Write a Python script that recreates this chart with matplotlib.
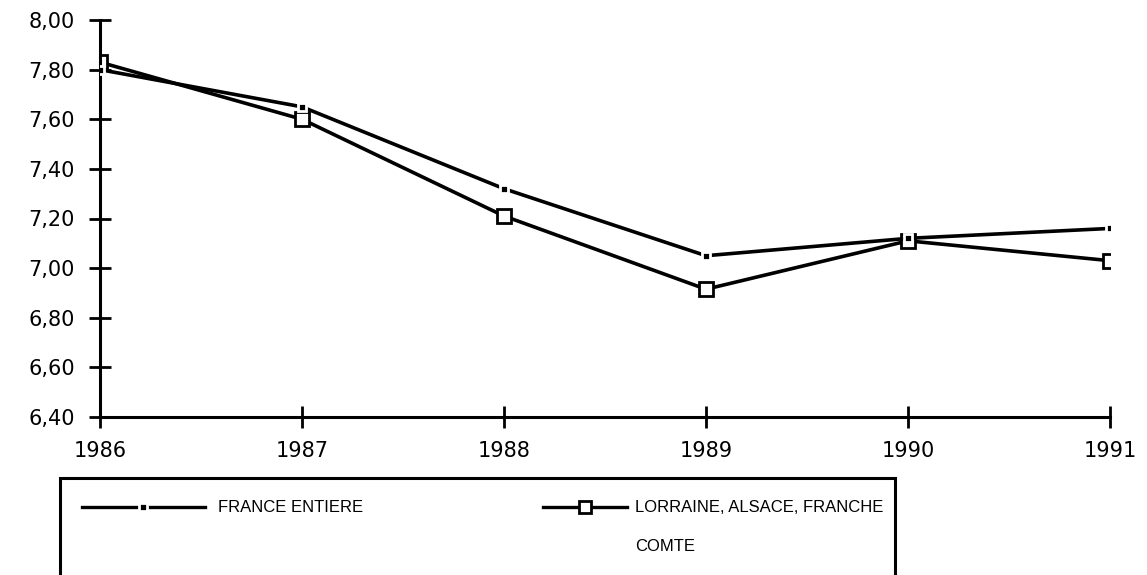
import matplotlib
matplotlib.use("Agg")
from matplotlib import pyplot as plt
from matplotlib.lines import Line2D
from matplotlib.patches import Rectangle
import numpy as np


# data
years = [1986, 1987, 1988, 1989, 1990, 1991]
france = [7.80, 7.65, 7.32, 7.05, 7.12, 7.16]
lorraine = [7.83, 7.60, 7.21, 6.915, 7.11, 7.03]
yticks = [6.40, 6.60, 6.80, 7.00, 7.20, 7.40, 7.60, 7.80, 8.00]
label_france = "FRANCE ENTIERE"
label_lorraine = "LORRAINE, ALSACE, FRANCHE\nCOMTE"

W, H = 1147, 575
fig = plt.figure(figsize=(W / 100, H / 100), dpi=100)
ax = fig.add_axes([100 / W, 1 - 417 / H, 1010 / W, 397 / H])

ax.plot(years, france, color="black", lw=2.6, marker="s", ms=6,
        mfc="black", mec="white", mew=2, zorder=3)
ax.plot(years, lorraine, color="black", lw=2.6, marker="s", ms=10,
        mfc="white", mec="black", mew=2, zorder=2)

ax.set_xlim(1986, 1991)
ax.set_ylim(6.40, 8.00)
ax.set_xticks(years)
ax.set_xticklabels([str(y) for y in years], fontsize=15, family="DejaVu Sans")
ax.set_yticks(yticks)
ax.set_yticklabels([("%.2f" % v).replace(".", ",") for v in yticks],
                   fontsize=15, family="DejaVu Sans")
for s in ["top", "right"]:
    ax.spines[s].set_visible(False)
for s in ["left", "bottom"]:
    ax.spines[s].set_linewidth(2.2)
ax.tick_params(direction="inout", length=16, width=2)
ax.tick_params(axis="x", pad=9)
ax.tick_params(axis="y", pad=10)

# legend box, open at the bottom of the picture
fig.add_artist(Rectangle((60 / W, -0.05), 835 / W, 1 - 478 / H + 0.05,
                         transform=fig.transFigure, fill=False,
                         lw=2.2, ec="black", clip_on=False))
ly = 1 - 507 / H
fig.add_artist(Line2D([82 / W, 205 / W], [ly, ly], transform=fig.transFigure,
                      color="black", lw=2.4))
fig.add_artist(Line2D([143 / W], [ly], transform=fig.transFigure, marker="s",
                      ms=6, mfc="black", mec="white", mew=2, ls="none"))
fig.text(218 / W, ly, label_france, fontsize=12, family="Liberation Sans",
         va="center", ha="left")
fig.add_artist(Line2D([543 / W, 627 / W], [ly, ly], transform=fig.transFigure,
                      color="black", lw=2.4))
fig.add_artist(Line2D([585 / W], [ly], transform=fig.transFigure, marker="s",
                      ms=9, mfc="white", mec="black", mew=2, ls="none"))
fig.text(635 / W, ly + 7 / H, label_lorraine, fontsize=12,
         family="Liberation Sans", va="top", ha="left", linespacing=3.0)

fig.savefig("out.png", dpi=100)
